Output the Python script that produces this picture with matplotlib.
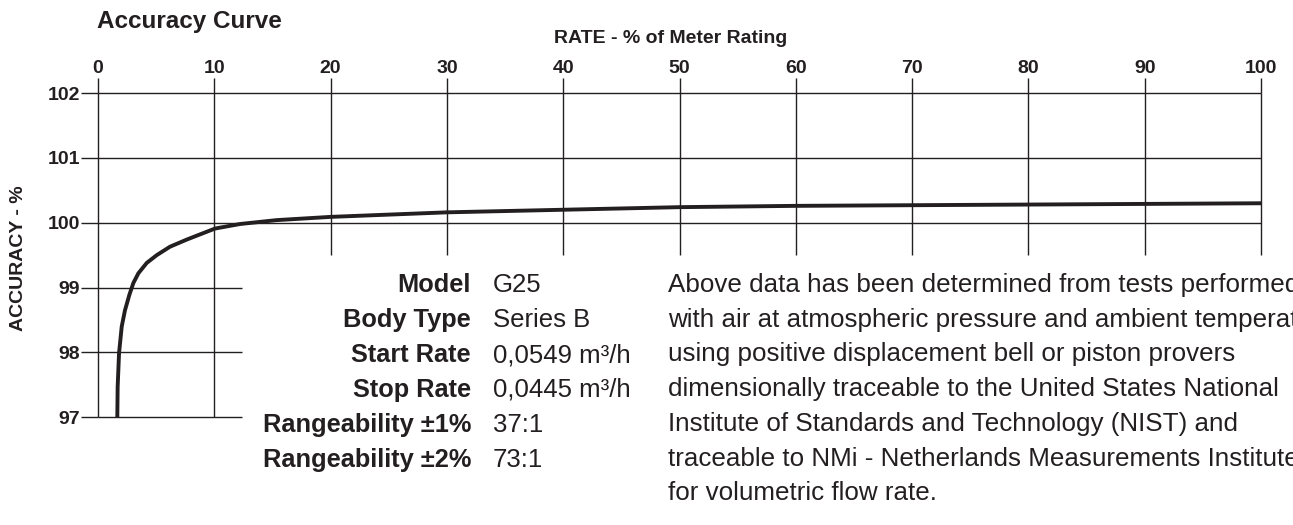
import numpy as np
import matplotlib
matplotlib.use('Agg')
import matplotlib.pyplot as plt

# accuracy curve (rate in % of meter rating, accuracy in %)
rate = [1.66, 1.69, 1.81, 2.04, 2.32, 2.70, 3.04, 3.47, 4.19, 5.05, 6.19, 7.63,
        8.77, 10.06, 12.21, 15.36, 20, 30, 40, 50, 60, 70, 80, 90, 100]
accuracy = [97.0, 97.47, 97.99, 98.40, 98.65, 98.89, 99.07, 99.22, 99.38, 99.50,
            99.63, 99.74, 99.82, 99.91, 99.98, 100.04, 100.09, 100.16, 100.20,
            100.24, 100.26, 100.27, 100.28, 100.29, 100.30]

x_ticks = [0, 10, 20, 30, 40, 50, 60, 70, 80, 90, 100]
y_ticks = [97, 98, 99, 100, 101, 102]

spec_labels = ['Model', 'Body Type', 'Start Rate', 'Stop Rate',
               'Rangeability \u00b11%', 'Rangeability \u00b12%']
spec_values = ['G25', 'Series B', '0,0549 m\u00b3/h', '0,0445 m\u00b3/h', '37:1', '73:1']

note_lines = [
    'Above data has been determined from tests performed',
    'with air at atmospheric pressure and ambient temperature',
    'using positive displacement bell or piston provers',
    'dimensionally traceable to the United States National',
    'Institute of Standards and Technology (NIST) and',
    'traceable to NMi - Netherlands Measurements Institute',
    'for volumetric flow rate.',
]

ink = '#231f20'
plt.rcParams['font.family'] = ['Liberation Sans', 'DejaVu Sans']
plt.rcParams['text.color'] = ink

W, H = 1293, 525
fig = plt.figure(figsize=(W / 100, H / 100), dpi=100)
fig.patch.set_facecolor('white')

# plot area in pixels: x 0..100 -> 98..1261, y 97..102 -> 417.3..93
ax = fig.add_axes([98 / W, 1 - 417.3 / H, 1163 / W, (417.3 - 93) / H])
ax.set_xlim(0, 100)
ax.set_ylim(97, 102)
for s in ax.spines.values():
    s.set_visible(False)
ax.patch.set_alpha(0)

#grid: full lines only where the chart has them
for x in x_ticks:
    low = 97 if x <= 10 else 99.5
    ax.vlines(x, low, 102, color=ink, lw=1.0, clip_on=False)
for y in y_ticks:
    right = 100 if y >= 100 else 12.4
    ax.hlines(y, 0, right, color=ink, lw=1.0, clip_on=False)

ax.plot(rate, accuracy, color=ink, lw=2.8, solid_capstyle='butt', clip_on=False)

ax.xaxis.set_ticks_position('top')
ax.set_xticks(x_ticks)
ax.set_yticks(y_ticks)
ax.tick_params(axis='x', length=10.8, width=1.0, pad=1.0, labelsize=14, color=ink, labelcolor=ink)
ax.tick_params(axis='y', length=12.2, width=1.0, pad=0.7, labelsize=14, color=ink, labelcolor=ink)
plt.setp(ax.get_xticklabels() + ax.get_yticklabels(), fontweight='bold')

fig.text(97 / W, 1 - 28.3 / H, 'Accuracy Curve', fontsize=17.5, fontweight='bold', va='baseline')
fig.text(671 / W, 1 - 42.7 / H, 'RATE - % of Meter Rating', fontsize=14, fontweight='bold',
         ha='center', va='baseline')
fig.text(18.3 / W, 1 - 258 / H, 'ACCURACY - %', fontsize=14, fontweight='bold',
         rotation=90, ha='center', va='center')

# spec table
for i, (lab, val) in enumerate(zip(spec_labels, spec_values)):
    yb = 1 - (292 + 35 * i) / H
    fig.text(471 / W, yb, lab, fontsize=18.3, fontweight='bold', ha='right', va='baseline')
    fig.text(493 / W, yb, val, fontsize=18.5, ha='left', va='baseline')

# note paragraph (runs off the right edge like the original)
for i, line in enumerate(note_lines):
    fig.text(668 / W, 1 - (292 + 34.7 * i) / H, line, fontsize=18.7, ha='left', va='baseline')

fig.savefig('out.png', dpi=100)
